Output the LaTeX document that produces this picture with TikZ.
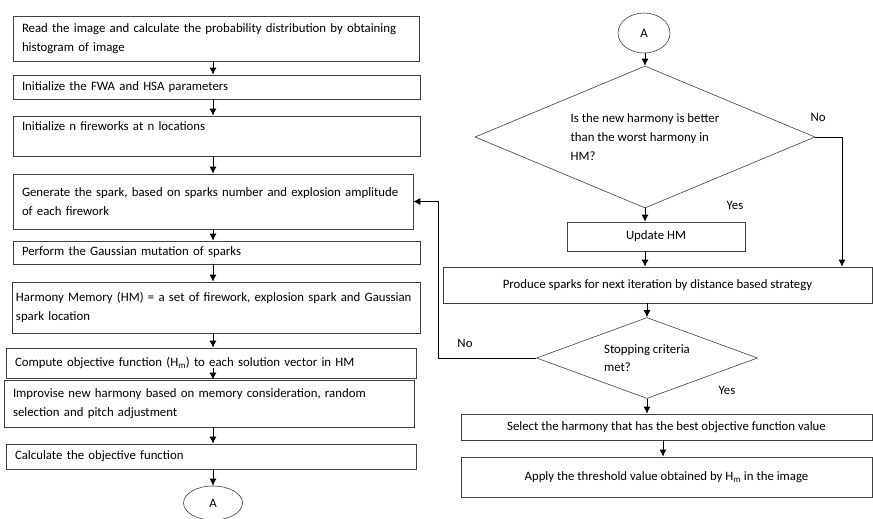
\documentclass[tikz,border=0pt]{standalone}
\usepackage{fontspec}
\setmainfont{Carlito}
\usepackage{tikz}
\usetikzlibrary{arrows.meta,positioning,calc,shapes.geometric}

\begin{document}
\begin{tikzpicture}[x=1pt,y=-1pt,>={Latex[length=7pt,width=7pt]},
  lbox/.style={draw=black!75,line width=0.6pt,text width=#1,inner xsep=9pt,inner ysep=0pt,align=left,font=\fontsize{12.8}{19}\selectfont},
  rbox/.style={draw=black!75,line width=0.6pt,minimum width=#1,inner sep=0pt,align=center,font=\fontsize{12.8}{19}\selectfont},
  dec/.style={draw=black!75,line width=0.6pt,diamond,inner sep=0pt,align=left,font=\fontsize{12.8}{19}\selectfont},
  conn/.style={draw=black!75,line width=0.6pt,ellipse,inner sep=0pt,font=\fontsize{12.8}{15}\selectfont},
  lbl/.style={font=\fontsize{12.8}{15}\selectfont},
  every path/.style={line width=0.9pt}]
\useasboundingbox (0,0) rectangle (873,519);

\node[lbox=388pt,minimum height=45pt] (read) at (216,38.5) {Read the image and calculate the probability distribution by obtaining\\histogram of image};
\node[lbox=389pt,minimum height=24pt] (init) at (216.5,87) {Initialize the FWA and HSA parameters};
\node[lbox=389pt,minimum height=40pt] (fw) at (216.5,136) {Initialize n fireworks at n locations\\ ~};
\node[lbox=382pt,minimum height=55pt] (gen) at (213,201.5) {Generate the spark, based on sparks number and explosion amplitude\\of each firework};
\node[lbox=389pt,minimum height=23pt] (gauss) at (216.5,252.5) {Perform the Gaussian mutation of sparks};
\node[lbox=400pt,inner xsep=4pt,minimum height=51pt] (hm) at (216,307.5) {\hyphenpenalty=10000 Harmony Memory (HM) = a set of firework, explosion spark and Gaussian\\spark location};
\node[lbox=392pt,minimum height=30pt] (cof) at (211,363) {Compute objective function (H\textsubscript{m}) to each solution vector in HM};
\node[lbox=392pt,minimum height=47pt] (imp) at (209,403.5) {Improvise new harmony based on memory consideration, random\\selection and pitch adjustment};
\node[lbox=392pt,minimum height=25pt] (calc) at (211,456.5) {Calculate the objective function};
\node[conn,minimum width=59pt,minimum height=34pt] (ab) at (213,503) {A};

\draw[->] (read.south -| 213,0) -- (init.north -| 213,0);
\draw[->] (init.south -| 213,0) -- (fw.north -| 213,0);
\draw[->] (fw.south -| 213,0) -- (gen.north -| 213,0);
\draw[->] (gen.south -| 213,0) -- (gauss.north -| 213,0);
\draw[->] (gauss.south -| 213,0) -- (hm.north -| 213,0);
\draw[->] (hm.south -| 213,0) -- (cof.north -| 213,0);
\draw[->] ([yshift=10pt]cof.south -| 213,0) -- (imp.north -| 213,0);
\draw[->] (imp.south -| 213,0) -- (calc.north -| 213,0);
\draw[->] (calc.south -| 213,0) -- (ab.north);

\node[conn,minimum width=52pt,minimum height=40pt] (at) at (644,33) {A};
\node[dec,aspect=2.4,minimum width=340pt,minimum height=142pt] (d1) at (645,137) {Is the new harmony is better\\than the worst harmony in\\HM?};
\node[rbox=178pt,minimum height=29pt] (upd) at (656,236.5) {Update HM};
\node[rbox=429pt,minimum height=36pt] (prod) at (657.5,285) {Produce sparks for next iteration by distance based strategy};
\node[dec,aspect=2.7,minimum width=221pt,minimum height=81pt,font=\fontsize{12.8}{18}\selectfont] (d2) at (647,358) {Stopping criteria\\met?};
\node[rbox=411pt,minimum height=26pt] (sel) at (666.5,427) {Select the harmony that has the best objective function value};
\node[rbox=411pt,minimum height=40pt] (app) at (666.5,477) {Apply the threshold value obtained by H\textsubscript{m} in the image};

\node[lbl] (no1) at (818,117) {No};
\node[lbl] (yes1) at (735,205) {Yes};
\node[lbl] (no2) at (465,343) {No};
\node[lbl] (yes2) at (727,390) {Yes};

\coordinate (nx) at (842,137);
\coordinate (lp) at (438,358);

\draw[->] (at.south -| d1.north) -- (d1.north);
\draw[->] (d1.south) -- (d1.south |- upd.north);
\draw[->] (d1.south |- upd.south) -- (d1.south |- prod.north);
\draw[->] (d1.east) -- (nx) -- (nx |- prod.north);
\draw[->] (d2.north |- prod.south) -- (d2.north);
\draw[->] (d2.south) -- (d2.south |- sel.north);
\draw[->] (sel.south -| 663,0) -- (app.north -| 663,0);
\draw[->] (d2.west) -- (lp) |- (gen.east);
\end{tikzpicture}
\end{document}
